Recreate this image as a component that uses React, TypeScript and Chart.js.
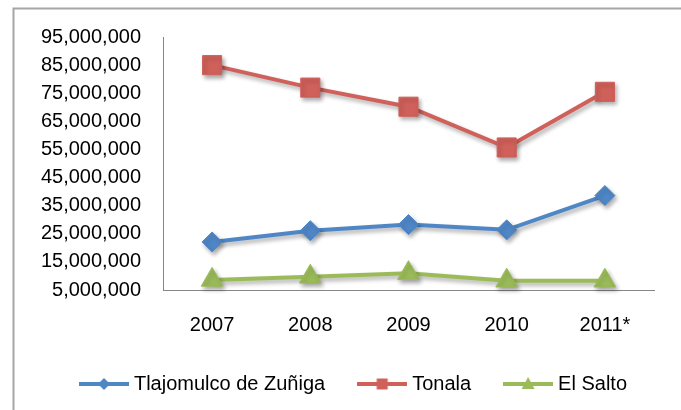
import React, { useEffect, useRef } from "react";
import { Chart, registerables } from "chart.js";

Chart.register(...registerables);

const categories = ["2007", "2008", "2009", "2010", "2011*"];
const tlajomulco = [22100000, 26100000, 28300000, 26400000, 38600000];
const tonala = [85000000, 77000000, 70200000, 55700000, 75500000];
const elSalto = [8600000, 9700000, 11000000, 8300000, 8300000];
const seriesNames = ["Tlajomulco de Zuñiga", "Tonala", "El Salto"];
const seriesColors = ["#4F86C6", "#D0605A", "#9BBB59"];
const seriesMarkers = ["rectRot", "rect", "triangle"];

const FONT = "'Liberation Sans', Arial, sans-serif";

function makeLegendSymbol(color: string, marker: string): HTMLCanvasElement {
  const c = document.createElement("canvas");
  c.width = 50;
  c.height = 24;
  const ctx = c.getContext("2d")!;
  const cy = 12;
  ctx.strokeStyle = color;
  ctx.lineWidth = 4;
  ctx.beginPath();
  ctx.moveTo(0, cy);
  ctx.lineTo(50, cy);
  ctx.stroke();
  ctx.fillStyle = color;
  ctx.beginPath();
  if (marker === "rectRot") {
    ctx.moveTo(25, cy - 6);
    ctx.lineTo(31, cy);
    ctx.lineTo(25, cy + 6);
    ctx.lineTo(19, cy);
  } else if (marker === "rect") {
    ctx.rect(19.5, cy - 5.5, 11, 11);
  } else {
    ctx.moveTo(25, cy - 7);
    ctx.lineTo(31.5, cy + 5);
    ctx.lineTo(18.5, cy + 5);
  }
  ctx.closePath();
  ctx.fill();
  return c;
}

const borderPlugin = {
  id: "outerBorder",
  beforeDraw(chart: any) {
    const ctx = chart.ctx;
    ctx.save();
    ctx.fillStyle = "#ffffff";
    ctx.fillRect(0, 0, chart.width, chart.height);
    ctx.strokeStyle = "#A6A6A6";
    ctx.lineWidth = 2;
    ctx.strokeRect(13.5, 8.5, 800, 600);
    ctx.restore();
  },
};

const shadowPlugin = {
  id: "lineShadow",
  beforeDatasetsDraw(chart: any) {
    const ctx = chart.ctx;
    ctx.save();
    ctx.shadowColor = "rgba(0,0,0,0.32)";
    ctx.shadowBlur = 4;
    ctx.shadowOffsetX = 2;
    ctx.shadowOffsetY = 3;
  },
  afterDatasetsDraw(chart: any) {
    chart.ctx.restore();
  },
};

export default function App() {
  const ref = useRef<HTMLCanvasElement | null>(null);

  useEffect(() => {
    document.body.style.margin = "0";
    const values = [tlajomulco, tonala, elSalto];
    const radii = [10, 13.5, 12.5];
    const symbols = seriesColors.map((c, i) => makeLegendSymbol(c, seriesMarkers[i]));
    const chart = new Chart(ref.current!, {
      type: "line",
      data: {
        labels: categories,
        datasets: seriesNames.map((name, i) => ({
          label: name,
          data: values[i],
          borderColor: seriesColors[i],
          backgroundColor: seriesColors[i],
          borderWidth: 4,
          pointStyle: seriesMarkers[i] as any,
          pointRadius: radii[i],
          pointBackgroundColor: seriesColors[i],
          pointBorderColor: seriesColors[i],
          pointBorderWidth: 1,
          tension: 0,
          clip: false as any,
        })),
      },
      options: {
        animation: false,
        responsive: true,
        maintainAspectRatio: false,
        layout: { padding: { left: 30, right: 0, top: 37, bottom: 6 } },
        scales: {
          x: {
            offset: true,
            grid: { display: false, drawTicks: false },
            border: { display: true, color: "#868686", width: 1 },
            afterFit: (scale: any) => {
              scale.height = 47;
            },
            ticks: { color: "#000", padding: 23, font: { family: FONT, size: 20 }, maxRotation: 0, autoSkip: false },
          },
          y: {
            min: 5000000,
            max: 95000000,
            grid: { display: false, drawTicks: false },
            border: { display: true, color: "#868686", width: 1 },
            afterFit: (scale: any) => {
              scale.width = 133;
            },
            ticks: {
              stepSize: 10000000,
              autoSkip: false,
              color: "#000",
              padding: 22,
              font: { family: FONT, size: 20 },
              callback: (v: any) => Number(v).toLocaleString("en-US"),
            },
          },
          yRight: {
            position: "right",
            display: true,
            grid: { display: false, drawTicks: false },
            border: { display: false },
            ticks: { display: false },
            afterFit: (scale: any) => {
              scale.width = 27;
            },
          },
        },
        plugins: {
          tooltip: { enabled: false },
          legend: {
            position: "bottom",
            labels: {
              color: "#000",
              font: { family: FONT, size: 20 },
              usePointStyle: true,
              pointStyleWidth: 40,
              padding: 37,
              generateLabels: (ch: any) => {
                const items = Chart.defaults.plugins.legend.labels.generateLabels(ch);
                return items.map((it: any, i: number) => ({ ...it, pointStyle: symbols[i] }));
              },
            },
          },
        },
      },
      plugins: [borderPlugin, shadowPlugin],
    });
    return () => chart.destroy();
  }, []);

  return (
    <div style={{ width: 681, height: 410, position: "relative" }}>
      <canvas ref={ref} />
    </div>
  );
}
